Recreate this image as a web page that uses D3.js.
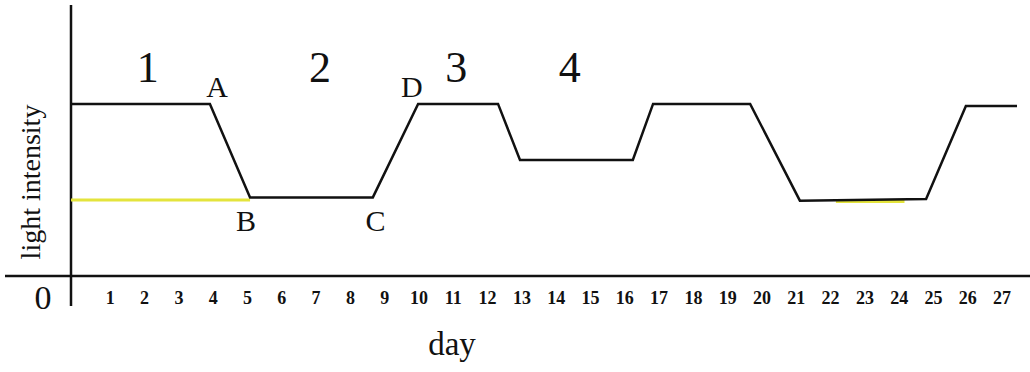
<!DOCTYPE html>
<html>
<head>
<meta charset="utf-8">
<script src="https://cdn.jsdelivr.net/npm/d3@7"></script>
<style>
  html, body { margin: 0; padding: 0; background: #fff; }
  svg { display: block; }
  text { font-family: "Liberation Serif", "DejaVu Serif", serif; fill: #111; }
</style>
</head>
<body>
<svg id="chart" width="1030" height="372"></svg>
<script>
// Days along the horizontal axis
const dayTicks = d3.range(1, 28);

// Light intensity curve: day and intensity of each corner
const curveDays      = [0, 4.05, 5.22, 8.80, 10.12, 12.45, 13.09, 16.38, 16.97, 19.80, 21.25, 24.93, 26.09, 27.58];
const curveIntensity = [6.35, 6.35, 2.90, 2.90, 6.35, 6.35, 4.28, 4.28, 6.35, 6.35, 2.78, 2.84, 6.27, 6.27];

// Yellow reference level (compensation point)
const refStart = [0, 22.3];
const refEnd   = [5.22, 24.3];
const refLevel = [2.86, 2.80];

// Region numbers and point letters
const regionLabels = ["1", "2", "3", "4"];
const regionDays   = [2.24, 7.26, 11.23, 14.54];

const pointLabels = ["A", "B", "C", "D"];
const pointDays   = [4.26, 5.10, 8.88, 9.94];
const pointLevels = [6.35, 2.90, 2.90, 6.35];

const svg = d3.select("#chart");

const x = d3.scaleLinear().domain([0, 27]).range([71, 71 + 27 * 34.3]);
const y = d3.scaleLinear().domain([0, 10]).range([276, 5]);

// Axes lines
svg.append("line")
  .attr("x1", 5).attr("x2", 1030)
  .attr("y1", y(0)).attr("y2", y(0))
  .attr("stroke", "#111").attr("stroke-width", 2.5);
svg.append("line")
  .attr("x1", x(0)).attr("x2", x(0))
  .attr("y1", y(10)).attr("y2", 306)
  .attr("stroke", "#111").attr("stroke-width", 2.5);

// Tick labels (no tick marks)
const xAxis = d3.axisBottom(x).tickValues(dayTicks).tickSize(0).tickPadding(15).tickFormat(d3.format("d"));
const gx = svg.append("g").attr("transform", `translate(4.5,${y(0)})`).call(xAxis);
gx.select(".domain").remove();
gx.selectAll("text")
  .attr("font-family", "'Liberation Serif', serif")
  .attr("font-weight", "bold")
  .attr("font-size", 18)
  .attr("fill", "#111");

// Origin label
svg.append("text")
  .attr("x", 43).attr("y", 309)
  .attr("text-anchor", "middle")
  .attr("font-size", 34)
  .text("0");

// Axis titles
svg.append("text")
  .attr("x", 452).attr("y", 355)
  .attr("text-anchor", "middle")
  .attr("font-size", 33)
  .text("day");
svg.append("text")
  .attr("transform", "translate(40,182) rotate(-90)")
  .attr("text-anchor", "middle")
  .attr("font-size", 28)
  .text("light intensity");

// Yellow reference segments
svg.selectAll("line.ref")
  .data(refStart.map((s, i) => ({ s, e: refEnd[i], v: refLevel[i] })))
  .join("line")
  .attr("class", "ref")
  .attr("x1", d => x(d.s)).attr("x2", d => x(d.e))
  .attr("y1", d => y(d.v) + 1.5).attr("y2", d => y(d.v) + 1.5)
  .attr("stroke", "#e4e43c").attr("stroke-width", 3);

// Light intensity curve
const pts = curveDays.map((d, i) => [d, curveIntensity[i]]);
svg.append("path")
  .attr("d", d3.line().x(d => x(d[0])).y(d => y(d[1]))(pts))
  .attr("fill", "none")
  .attr("stroke", "#111")
  .attr("stroke-width", 2.5)
  .attr("stroke-linejoin", "miter");

// Region numbers
svg.selectAll("text.region")
  .data(regionLabels)
  .join("text")
  .attr("class", "region")
  .attr("x", (d, i) => x(regionDays[i]))
  .attr("y", 82)
  .attr("text-anchor", "middle")
  .attr("font-size", 44)
  .text(d => d);

// Point letters: A and D sit above, B and C below the curve
svg.selectAll("text.point")
  .data(pointLabels)
  .join("text")
  .attr("class", "point")
  .attr("x", (d, i) => x(pointDays[i]))
  .attr("y", (d, i) => (d === "A" || d === "D") ? y(pointLevels[i]) - 7 : y(pointLevels[i]) + 34)
  .attr("text-anchor", "middle")
  .attr("font-size", 30)
  .text(d => d);
</script>
</body>
</html>
